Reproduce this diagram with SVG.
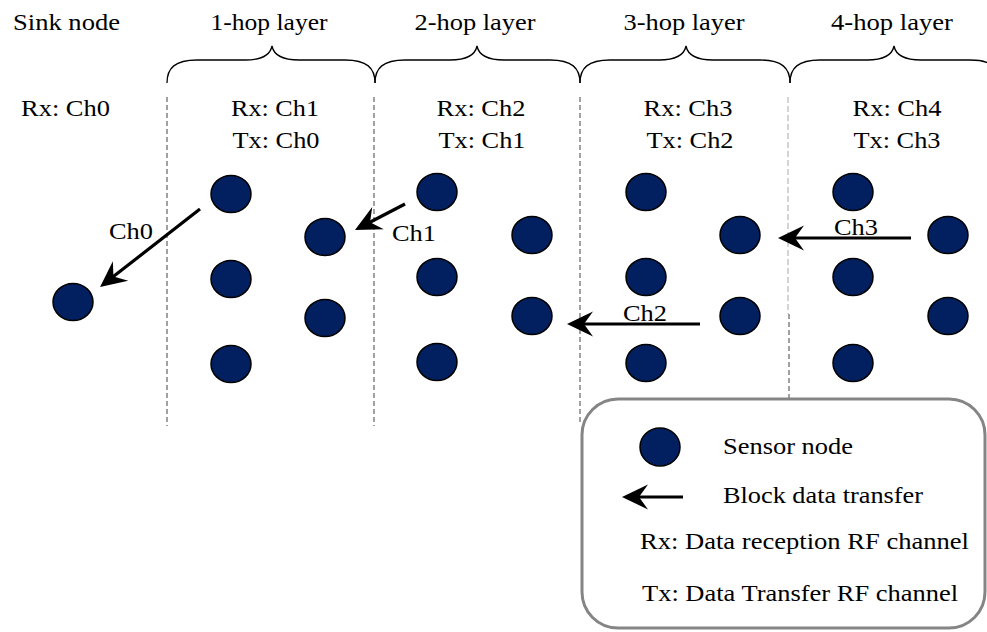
<svg xmlns="http://www.w3.org/2000/svg" width="987" height="632" viewBox="0 0 987 632">
  <style>
    .t { font-family: "Liberation Serif", "Times New Roman", serif; font-size: 24px; fill: #000; }
    .c { text-anchor: middle; }
    .node { fill: #022060; stroke: #000; stroke-width: 1.5; }
    .brace { fill: none; stroke: #000; stroke-width: 1.3; }
    .div { stroke: #8a8a8a; stroke-width: 1.6; stroke-dasharray: 5 3; fill: none; }
    .div-lite { stroke: #b8b8b8; stroke-width: 1.2; stroke-dasharray: 6 3; fill: none; }
    .arrow { stroke: #000; stroke-width: 3.2; fill: none; marker-end: url(#head); }
  </style>
  <defs>
    <marker id="head" markerUnits="userSpaceOnUse" viewBox="-28 -15 30 30" markerWidth="30" markerHeight="30" refX="-12" refY="0" orient="auto">
      <path d="M0,0 L-26,-12.5 L-17,0 L-26,12.5 Z" fill="#000"/>
    </marker>
  </defs>

  <!-- layer dividers -->
  <g id="dividers">
    <line class="div" x1="167" y1="97" x2="167" y2="426"/>
    <line class="div" x1="374" y1="97" x2="374" y2="426"/>
    <line class="div" x1="580" y1="97" x2="580" y2="423"/>
    <line class="div-lite" x1="788" y1="97" x2="788" y2="314"/>
    <line class="div" x1="789" y1="314" x2="789" y2="399"/>
  </g>

  <!-- braces over each hop layer -->
  <g id="braces">
    <path class="brace" d="M167,83 C167,68 175,60 197,60 L245,60 C261,60 270,56 272,46 C274,56 283,60 299,60 L345,60 C367,60 375,68 375,83"/>
    <path class="brace" d="M375,83 C375,68 383,60 405,60 L450,60 C466,60 475,56 477,46 C479,56 488,60 504,60 L550,60 C572,60 580,68 580,83"/>
    <path class="brace" d="M580,83 C580,68 588,60 610,60 L659,60 C675,60 684,56 686,46 C688,56 697,60 713,60 L760,60 C782,60 790,68 790,83"/>
    <path class="brace" d="M790,83 C790,68 798,60 820,60 L867,60 C883,60 892,56 894,46 C896,56 905,60 921,60 L970,60 C992,60 1000,68 1000,83"/>
  </g>

  <!-- headings -->
  <g id="headings">
    <text class="t" x="13" y="30" textLength="107" lengthAdjust="spacingAndGlyphs">Sink node</text>
    <text class="t c" x="269" y="30" textLength="117" lengthAdjust="spacingAndGlyphs">1-hop layer</text>
    <text class="t c" x="475" y="30" textLength="121" lengthAdjust="spacingAndGlyphs">2-hop layer</text>
    <text class="t c" x="684" y="30" textLength="121" lengthAdjust="spacingAndGlyphs">3-hop layer</text>
    <text class="t c" x="892" y="30" textLength="122" lengthAdjust="spacingAndGlyphs">4-hop layer</text>
    <text class="t" x="21" y="116" textLength="89" lengthAdjust="spacingAndGlyphs">Rx: Ch0</text>
    <text class="t c" x="275" y="116" textLength="88" lengthAdjust="spacingAndGlyphs">Rx: Ch1</text>
    <text class="t c" x="276" y="148" textLength="87" lengthAdjust="spacingAndGlyphs">Tx: Ch0</text>
    <text class="t c" x="481" y="116" textLength="89" lengthAdjust="spacingAndGlyphs">Rx: Ch2</text>
    <text class="t c" x="482" y="148" textLength="87" lengthAdjust="spacingAndGlyphs">Tx: Ch1</text>
    <text class="t c" x="688" y="116" textLength="89" lengthAdjust="spacingAndGlyphs">Rx: Ch3</text>
    <text class="t c" x="690" y="148" textLength="87" lengthAdjust="spacingAndGlyphs">Tx: Ch2</text>
    <text class="t c" x="897" y="116" textLength="89" lengthAdjust="spacingAndGlyphs">Rx: Ch4</text>
    <text class="t c" x="897" y="148" textLength="87" lengthAdjust="spacingAndGlyphs">Tx: Ch3</text>
  </g>

  <!-- sensor nodes -->
  <g id="sink"><ellipse class="node" cx="73" cy="302" rx="20" ry="18.5"/></g>
  <g id="hop1">
    <ellipse class="node" cx="231" cy="194" rx="20" ry="18.5"/>
    <ellipse class="node" cx="231" cy="279" rx="20" ry="18.5"/>
    <ellipse class="node" cx="231" cy="364" rx="20" ry="18.5"/>
    <ellipse class="node" cx="325" cy="237" rx="20" ry="18.5"/>
    <ellipse class="node" cx="325" cy="318" rx="20" ry="18.5"/>
  </g>
  <g id="hop2">
    <ellipse class="node" cx="437" cy="192" rx="20" ry="18.5"/>
    <ellipse class="node" cx="437" cy="277" rx="20" ry="18.5"/>
    <ellipse class="node" cx="437" cy="362" rx="20" ry="18.5"/>
    <ellipse class="node" cx="532" cy="235" rx="20" ry="18.5"/>
    <ellipse class="node" cx="532" cy="316" rx="20" ry="18.5"/>
  </g>
  <g id="hop3">
    <ellipse class="node" cx="646" cy="192" rx="20" ry="18.5"/>
    <ellipse class="node" cx="646" cy="277" rx="20" ry="18.5"/>
    <ellipse class="node" cx="646" cy="363" rx="20" ry="18.5"/>
    <ellipse class="node" cx="740" cy="235" rx="20" ry="18.5"/>
    <ellipse class="node" cx="740" cy="316" rx="20" ry="18.5"/>
  </g>
  <g id="hop4">
    <ellipse class="node" cx="853" cy="192" rx="20" ry="18.5"/>
    <ellipse class="node" cx="853" cy="277" rx="20" ry="18.5"/>
    <ellipse class="node" cx="853" cy="363" rx="20" ry="18.5"/>
    <ellipse class="node" cx="948" cy="235" rx="20" ry="18.5"/>
    <ellipse class="node" cx="948" cy="316" rx="20" ry="18.5"/>
  </g>

  <!-- block data transfers -->
  <g id="connectors">
    <line class="arrow" x1="200" y1="209" x2="109.5" y2="279.6"/>
    <line class="arrow" x1="405" y1="204" x2="365.6" y2="224.5"/>
    <line class="arrow" x1="700" y1="324" x2="579" y2="324"/>
    <line class="arrow" x1="911" y1="238" x2="790" y2="238"/>
    <text class="t" x="109" y="239" textLength="44" lengthAdjust="spacingAndGlyphs">Ch0</text>
    <text class="t" x="392" y="241" textLength="44" lengthAdjust="spacingAndGlyphs">Ch1</text>
    <text class="t c" x="645" y="321" textLength="44" lengthAdjust="spacingAndGlyphs">Ch2</text>
    <text class="t c" x="856" y="235" textLength="44" lengthAdjust="spacingAndGlyphs">Ch3</text>
  </g>

  <!-- legend -->
  <g id="legend">
    <rect x="582" y="399" width="403" height="229" rx="36" ry="36" fill="#fff" stroke="#858585" stroke-width="3"/>
    <ellipse class="node" cx="660" cy="447" rx="20" ry="19"/>
    <text class="t" x="723" y="454" textLength="130" lengthAdjust="spacingAndGlyphs">Sensor node</text>
    <line class="arrow" x1="683" y1="497" x2="634" y2="497"/>
    <text class="t" x="723" y="503" textLength="200" lengthAdjust="spacingAndGlyphs">Block data transfer</text>
    <text class="t" x="640" y="549" textLength="329" lengthAdjust="spacingAndGlyphs">Rx: Data reception RF channel</text>
    <text class="t" x="642" y="601" textLength="316" lengthAdjust="spacingAndGlyphs">Tx: Data Transfer RF channel</text>
  </g>
</svg>
